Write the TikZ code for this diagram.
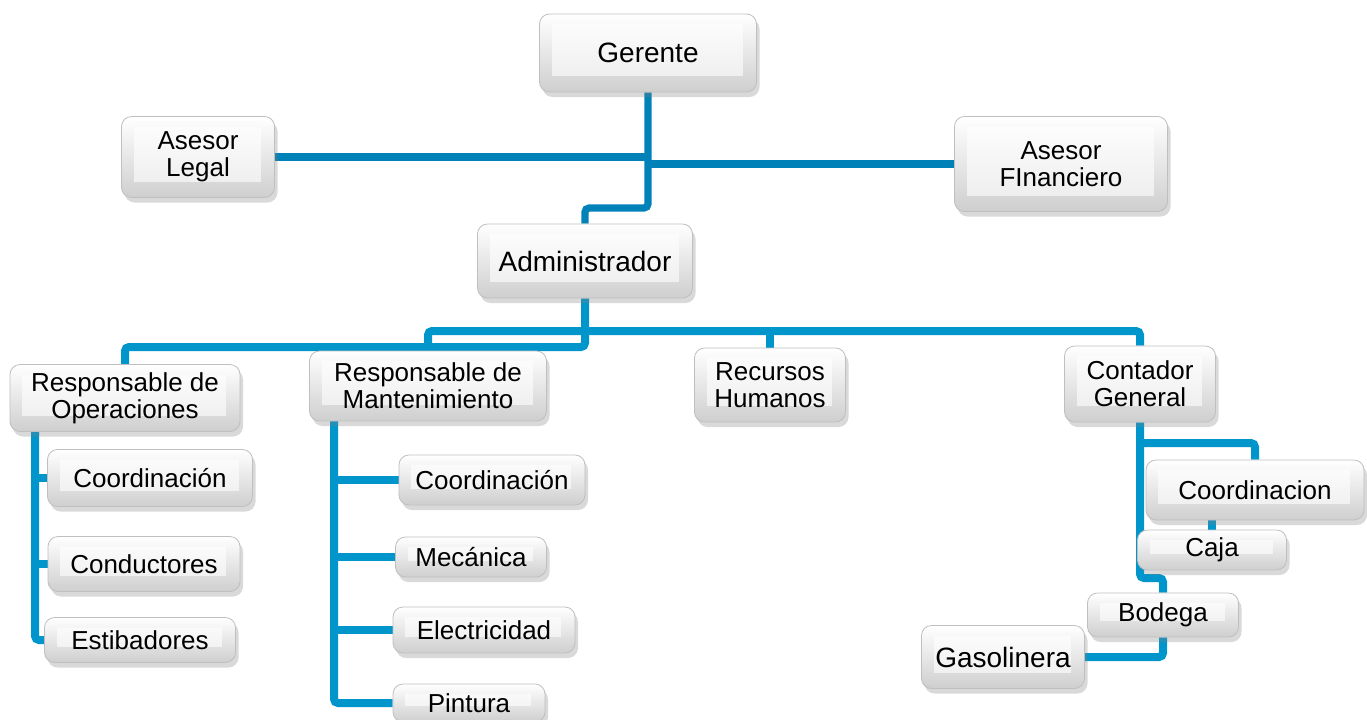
\documentclass[tikz,border=0pt]{standalone}
\usepackage{fontspec}
\setmainfont{Liberation Sans}
\usetikzlibrary{shadows,backgrounds}
\definecolor{linkdark}{HTML}{0082B8}
\definecolor{linklight}{HTML}{0096CC}
\tikzset{
    box/.style={rectangle,rounded corners=5pt,draw=gray!50,top color=white,bottom color=gray!38,
        drop shadow={shadow xshift=1.5pt,shadow yshift=-2.5pt,opacity=.3},
        align=center,inner sep=2pt,font=\fontsize{13}{13.5}\selectfont,
        path picture={\fill[white,opacity=.6,sharp corners]
            ([shift={(6pt,-5pt)}]path picture bounding box.north west) rectangle
            ([shift={(-7pt,8pt)}]path picture bounding box.south east);}},
    big/.style={font=\fontsize{14}{14}\selectfont},
    link/.style={linklight,line width=4pt,rounded corners=2pt},
    toplink/.style={linkdark,line width=3.6pt,rounded corners=2pt}
}

\begin{document}
\begin{tikzpicture}[x=0.5pt,y=-0.5pt]
    \useasboundingbox (0,0) rectangle (1367,719);

    % top levels
    \node[box,big] (gerente)    at (648,53)  [minimum width=108.5pt,minimum height=39pt]   {Gerente};
    \node[box]     (legal)      at (198,157) [minimum width=76.5pt,minimum height=40.5pt]  {Asesor\\Legal};
    \node[box]     (financiero) at (1061,164)[minimum width=106.5pt,minimum height=47.5pt] {Asesor\\FInanciero};
    \node[box,big] (admin)      at (585,261) [minimum width=107.5pt,minimum height=37pt]   {Administrador};

    % second level
    \node[box] (opera)    at (125,398)  [minimum width=115pt,minimum height=33.5pt] {Responsable de\\Operaciones};
    \node[box] (mant)     at (428,386)  [minimum width=118.5pt,minimum height=35pt] {Responsable de\\Mantenimiento};
    \node[box] (rrhh)     at (770,385)  [minimum width=75.5pt,minimum height=37pt]  {Recursos\\Humanos};
    \node[box] (contador) at (1140,384) [minimum width=75.5pt,minimum height=38pt]  {Contador\\General};

    % operaciones
    \node[box] (coordL)  at (150,478) [minimum width=102.5pt,minimum height=28.5pt] {Coordinación};
    \node[box] (conduct) at (144,564) [minimum width=96pt,minimum height=27.5pt]    {Conductores};
    \node[box] (estib)   at (140,640) [minimum width=95.5pt,minimum height=22.5pt]  {Estibadores};

    % mantenimiento
    \node[box] (coordM)  at (492,480) [minimum width=93pt,minimum height=25pt]   {Coordinación};
    \node[box] (mecanica) at (471,557) [minimum width=75.5pt,minimum height=20pt] {Mecánica};
    \node[box] (electr)  at (484,630) [minimum width=91pt,minimum height=23pt]   {Electricidad};
    \node[box] (pintura) at (469,703) [minimum width=76pt,minimum height=19pt]   {Pintura};

    % contador
    \node[box] (coordR)  at (1255,490) [minimum width=109pt,minimum height=30pt]  {Coordinacion};
    \node[box] (caja)    at (1212,550) [minimum width=74.5pt,minimum height=20pt] {Caja};
    \node[box] (bodega)  at (1163,615) [minimum width=75.5pt,minimum height=22pt] {Bodega};
    \node[box,big] (gasol) at (1003,657) [minimum width=81.5pt,minimum height=31.5pt] {Gasolinera};

    \coordinate (jog)     at (648,208);
    \coordinate (busA)    at (587,331);
    \coordinate (busB)    at (587,347);
    \coordinate (opsbar)  at (35,432);
    \coordinate (mantbar) at (334,420);
    \coordinate (contA)   at (1140,443);
    \coordinate (contB)   at (1140,578);

    \begin{scope}[on background layer]
        \draw[toplink] (legal.east) -- (legal.east -| gerente.south);
        \draw[toplink] (financiero.west) -- (financiero.west -| gerente.south);
        \draw[toplink] (gerente.south) -- (jog) -| (admin.north);

        \draw[link] (admin.south) -- (admin.south |- busB) -| (opera.north);
        \draw[link] (mant.north |- busB) -- (mant.north |- busA) -| (contador.north);
        \draw[link] (rrhh.north) -- (rrhh.north |- busA);

        \draw[link] (opsbar) |- (estib.west);
        \draw[link] (opsbar |- coordL.west) -- (coordL.west);
        \draw[link] (opsbar |- conduct.west) -- (conduct.west);

        \draw[link] (mantbar) |- (pintura.west);
        \draw[link] (mantbar |- coordM.west) -- (coordM.west);
        \draw[link] (mantbar |- mecanica.west) -- (mecanica.west);
        \draw[link] (mantbar |- electr.west) -- (electr.west);

        \draw[link] (contador.south) -- (contB) -| (bodega.north);
        \draw[link] (contA) -| (coordR.north);
        \draw[link] (coordR.south -| caja.north) -- (caja.north);
        \draw[link] (bodega.south) |- (gasol.east);
    \end{scope}

\end{tikzpicture}
\end{document}
